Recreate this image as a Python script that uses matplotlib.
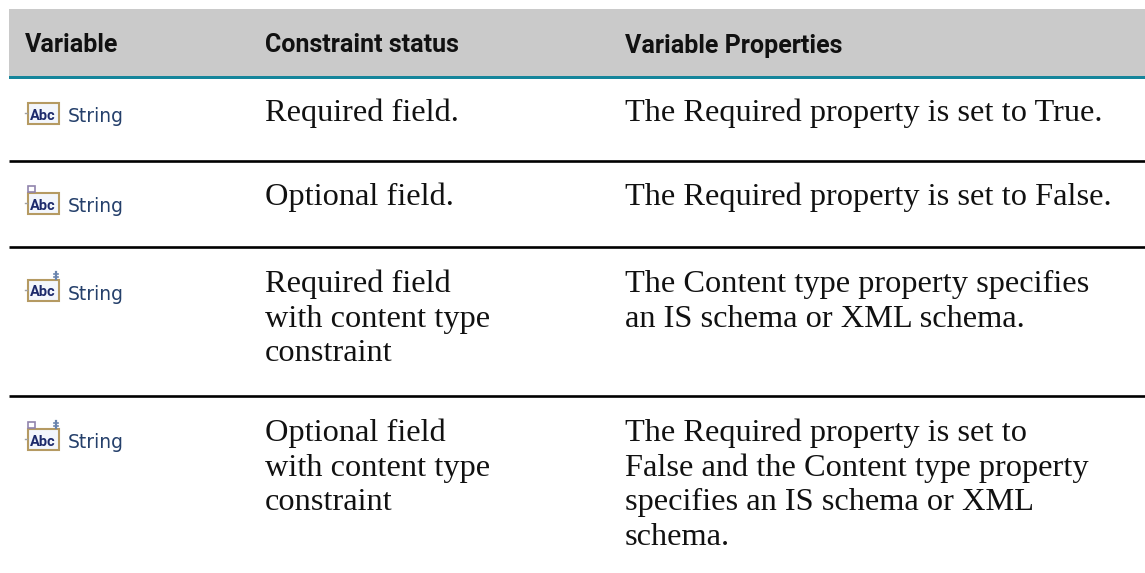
import matplotlib
matplotlib.use("Agg")
import matplotlib.pyplot as plt
from matplotlib.patches import Rectangle

W, H = 1145, 573
headers = ["Variable", "Constraint status", "Variable Properties"]
variables = ["String", "String", "String", "String"]
constraints = ["Required field.", "Optional field.",
               "Required field\nwith content type\nconstraint",
               "Optional field\nwith content type\nconstraint"]
properties = ["The Required property is set to True.",
              "The Required property is set to False.",
              "The Content type property specifies\nan IS schema or XML schema.",
              "The Required property is set to\nFalse and the Content type property\nspecifies an IS schema or XML\nschema."]
optional_flags = [False, True, False, True]
content_flags = [False, False, True, True]
icon_tops = [102, 192, 279, 428]
text_baselines = [121, 205, 292, 441]
separators = [161, 247, 396]

LINE = 34.7
BODY = dict(family="Liberation Serif", fontsize=23.3, color="#111111", va="baseline")

fig = plt.figure(figsize=(W / 100, H / 100), dpi=100)
ax = fig.add_axes([0, 0, 1, 1])
ax.set_xlim(0, W)
ax.set_ylim(H, 0)
ax.axis("off")

ax.add_patch(Rectangle((9, 9), W - 9, 67, fc="#cacaca", ec="none"))
ax.add_patch(Rectangle((9, 76), W - 9, 3, fc="#15859b", ec="none"))
for x, h in zip([25, 265, 625], headers):
    ax.text(x, 52.5, h, family="Roboto", weight="bold", fontsize=18, color="#111111", va="baseline")

for top, base, v, c, p, o, ct in zip(icon_tops, text_baselines, variables, constraints,
                                     properties, optional_flags, content_flags):
    ax.add_patch(Rectangle((27.5, top + 0.5), 31, 21, fc="#f3f6fc", ec="#b59a62", lw=1.5))
    ax.plot([25, 27], [top + 11, top + 11], color="#a0a0a0", lw=1)
    ax.text(43, top + 17.5, "Abc", family="Roboto", weight="bold", fontsize=10.5,
            color="#1d2a6b", ha="center", va="baseline")
    if o:
        ax.add_patch(Rectangle((28, top - 6), 7, 6, fc="white", ec="#9184ad", lw=1.2))
    if ct:
        ax.plot([56, 56], [top - 7, top], color="#6a84ad", lw=1.6)
        ax.plot([54, 58], [top - 5, top - 5], color="#6a84ad", lw=1.2)
        ax.plot([54, 58], [top - 2, top - 2], color="#6a84ad", lw=1.2)
    ax.text(68, top + 20.5, v, family="DejaVu Sans", fontsize=13.5, color="#25406b", va="baseline")
    for i, line in enumerate(c.split("\n")):
        ax.text(265, base + i * LINE, line, **BODY)
    for i, line in enumerate(p.split("\n")):
        ax.text(625, base + i * LINE, line, **BODY)

for s in separators:
    ax.plot([9, W], [s, s], color="black", lw=1.9, solid_capstyle="butt")
fig.savefig("out.png", dpi=100)
